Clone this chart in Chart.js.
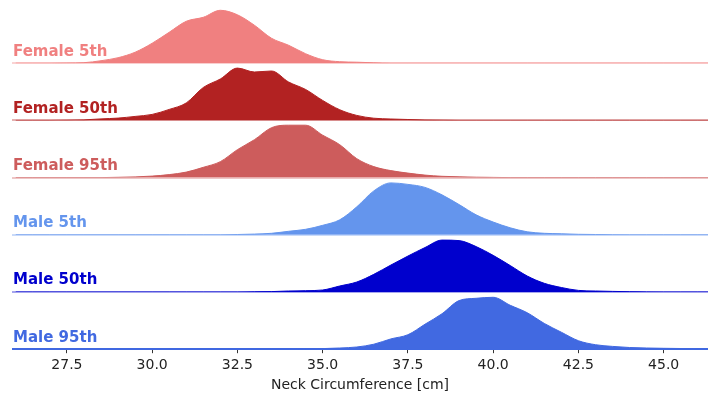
<!DOCTYPE html>
<html>
<head>
<meta charset="utf-8">
<script src="https://cdn.jsdelivr.net/npm/chart.js@4/dist/chart.umd.min.js"></script>
<style>
  html, body { margin: 0; padding: 0; background: #ffffff; }
  #chart { display: block; }
</style>
</head>
<body>
<canvas id="chart" width="708" height="396"></canvas>
<script>
// neck circumference grid (cm), shared by every row
const neckCm = [26, 26.5, 27, 27.5, 28, 28.5, 29, 29.5, 30, 30.5, 31, 31.5, 32, 32.5, 33, 33.5, 34, 34.5, 35, 35.5,
  36, 36.5, 37, 37.5, 38, 38.5, 39, 39.5, 40, 40.5, 41, 41.5, 42, 42.5, 43, 43.5, 44, 44.5, 45, 45.5, 46, 46.5];

// relative density of each group
const female5 = [0, 0, 0, 0.2, 0.5, 2.5, 5.5, 11, 20, 31, 42, 46, 53, 48.5, 38, 25, 18, 9.5, 3.5, 1.5,
  1, 0.4, 0, 0, 0, 0, 0, 0, 0, 0, 0, 0, 0, 0, 0, 0, 0, 0, 0, 0, 0, 0];
const female50 = [0, 0, 0, 0.2, 0.5, 1.5, 2.3, 4, 6, 11, 17.5, 33, 41.5, 52.4, 48.5, 49.5, 38.5, 31, 20, 10.7,
  5, 2.2, 1.4, 0.9, 0.4, 0.2, 0, 0, 0, 0, 0, 0, 0, 0, 0, 0, 0, 0, 0, 0, 0, 0];
const female95 = [0, 0, 0, 0, 0, 0, 0.3, 0.7, 1.5, 3, 5.5, 10.3, 16, 28, 38, 50, 52.5, 52.5, 42.5, 33,
  19, 11, 7, 4.5, 2.5, 1.3, 0.8, 0.4, 0.2, 0, 0, 0, 0, 0, 0, 0, 0, 0, 0, 0, 0, 0];
const male5 = [0, 0, 0, 0, 0, 0, 0, 0, 0, 0, 0, 0, 0, 0.3, 0.7, 1.5, 3.5, 5.5, 9.5, 15,
  28, 44, 52, 50.5, 47.5, 40, 30.3, 20, 12.8, 7, 3, 1.5, 1, 0.5, 0.3, 0.1, 0, 0, 0, 0, 0, 0];
const male50 = [0, 0, 0, 0, 0, 0, 0, 0, 0, 0, 0, 0, 0, 0, 0.2, 0.4, 1, 1.3, 2, 6,
  10, 17.7, 27, 36, 44.5, 52, 51.5, 45.5, 36.7, 26.5, 16, 8.7, 4.5, 1.6, 1, 0.6, 0.3, 0.1, 0, 0, 0, 0];
const male95 = [0, 0, 0, 0, 0, 0, 0, 0, 0, 0, 0, 0, 0, 0, 0, 0, 0, 0.3, 0.6, 1.2,
  2.2, 5, 10.3, 14.5, 25, 35.5, 48.7, 51, 52, 44, 36.5, 25.8, 17, 8.5, 4.5, 2.8, 1.7, 1.2, 0.9, 0.7, 0.6, 0.5];

const rowLabels = ['Female 5th', 'Female 50th', 'Female 95th', 'Male 5th', 'Male 50th', 'Male 95th'];
const rowColors = ['#F08080', '#B22222', '#CD5C5C', '#6495ED', '#0000CD', '#4169E1'];
const rowValues = [female5, female50, female95, male5, male50, male95];
const xTicks = [27.5, 30.0, 32.5, 35.0, 37.5, 40.0, 42.5, 45.0];

const rowIds = rowLabels.map((_, i) => 'row' + i);

function withAlpha(hex, a) {
  const n = parseInt(hex.slice(1), 16);
  return `rgba(${(n >> 16) & 255}, ${(n >> 8) & 255}, ${n & 255}, ${a})`;
}

const datasets = rowValues.map((vals, i) => ({
  label: rowLabels[i],
  data: vals.map((v, j) => ({ x: neckCm[j], y: v })),
  yAxisID: rowIds[i],
  backgroundColor: rowColors[i],
  borderColor: rowColors[i],
  borderWidth: 1,
  fill: 'origin',
  pointRadius: 0,
  cubicInterpolationMode: 'monotone'
}));

const scales = {
  x: {
    type: 'linear',
    min: 25.89,
    max: 46.3,
    afterBuildTicks: scale => {
      scale.ticks = xTicks.map(v => ({ value: v }));
    },
    ticks: {
      callback: v => Number(v).toFixed(1),
      color: '#222222',
      font: { family: 'DejaVu Sans', size: 14, lineHeight: 0.95 },
      padding: 6,
      maxRotation: 0,
      autoSkip: false
    },
    grid: {
      drawOnChartArea: false,
      drawTicks: true,
      tickLength: 4,
      color: '#333333'
    },
    border: { display: false },
    title: {
      display: true,
      text: 'Neck Circumference [cm]',
      color: '#222222',
      font: { family: 'DejaVu Sans', size: 14, lineHeight: 1.0 },
      padding: { top: 0, bottom: 3.5 }
    }
  }
};

// later axes are stacked on top, so add bottom row first
for (let i = rowIds.length - 1; i >= 0; i--) {
  const lastRow = i === rowIds.length - 1;
  scales[rowIds[i]] = {
    type: 'linear',
    position: 'left',
    stack: 'ridges',
    stackWeight: 1,
    min: 0,
    max: 57.3,
    ticks: { display: false },
    border: { display: false },
    grid: {
      drawTicks: false,
      lineWidth: 2,
      color: ctx => ctx.tick && ctx.tick.value === 0
        ? (lastRow ? rowColors[i] : withAlpha(rowColors[i], 0.35))
        : 'rgba(0,0,0,0)'
    }
  };
}

const rowLabelPlugin = {
  id: 'rowLabels',
  afterDatasetsDraw(chart) {
    const ctx = chart.ctx;
    ctx.save();
    ctx.font = 'bold 15px "DejaVu Sans"';
    ctx.textBaseline = 'middle';
    ctx.textAlign = 'left';
    rowIds.forEach((id, i) => {
      const s = chart.scales[id];
      const y = s.bottom - 0.2 * (s.bottom - s.top);
      ctx.fillStyle = rowColors[i];
      ctx.fillText(rowLabels[i], chart.chartArea.left + 1, y);
    });
    ctx.restore();
  }
};

new Chart(document.getElementById('chart'), {
  type: 'line',
  data: { datasets },
  options: {
    responsive: false,
    devicePixelRatio: 1,
    animation: false,
    layout: { padding: { left: 12, right: 0, top: 6, bottom: 0 } },
    plugins: {
      legend: { display: false },
      tooltip: { enabled: false }
    },
    scales
  },
  plugins: [rowLabelPlugin]
});
</script>
</body>
</html>
